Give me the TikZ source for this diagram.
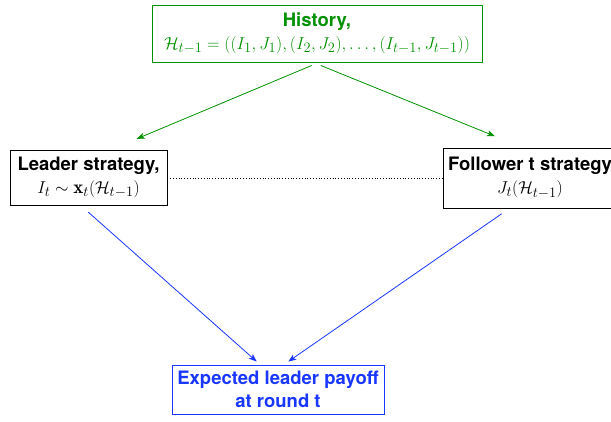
\documentclass[tikz,border=0pt]{standalone}
\usepackage{fontspec}
\setsansfont{TeX Gyre Heros}
\usetikzlibrary{arrows.meta,calc}
\definecolor{hgreen}{RGB}{0,145,0}
\definecolor{pblue}{RGB}{25,55,255}
\newcommand{\btx}[1]{{\fontsize{18.5}{23}\selectfont\sffamily\bfseries #1}}
\begin{document}
\begin{tikzpicture}[x=1pt,y=-1pt,
  box/.style={draw,line width=0.9pt,align=center,inner sep=0pt,
    font=\fontsize{19}{23}\selectfont},
  garrow/.style={draw=hgreen,line width=0.8pt,-{Stealth[length=8pt,width=6pt,inset=2pt]}},
  barrow/.style={draw=pblue,line width=0.8pt,-{Stealth[length=8pt,width=6pt,inset=2pt]}}]
\clip (0,0) rectangle (611,421);
\fill[white] (0,0) rectangle (611,421);
\node[box,draw=hgreen,text=hgreen,minimum width=330pt,minimum height=57pt] (hist) at (317,33.5)
  {\btx{History,}\\ $\mathcal{H}_{t-1}=((I_1,J_1),(I_2,J_2),\ldots,(I_{t-1},J_{t-1}))$};
\node[box,minimum width=157pt,minimum height=55pt] (lead) at (88.5,177.5)
  {\btx{Leader strategy,}\\ $I_t\sim\mathbf{x}_t(\mathcal{H}_{t-1})$};
\node[box,minimum width=174pt,minimum height=60pt] (foll) at (530,178)
  {\btx{Follower t strategy}\\ $J_t(\mathcal{H}_{t-1})$};
\node[box,draw=pblue,text=pblue,minimum width=212pt,minimum height=49pt] (exp) at (278,389.5)
  {\btx{Expected leader payoff}\\ \btx{at round t}};
\draw[garrow] ([xshift=-5.3pt,yshift=-3pt]hist.south) -- ([xshift=48.2pt,yshift=10.7pt]lead.north);
\draw[garrow] ([xshift=3.7pt,yshift=-3pt]hist.south) -- ([xshift=-35pt,yshift=11.3pt]foll.north);
\draw[barrow] ([xshift=-0.2pt,yshift=-6.7pt]lead.south) -- ([xshift=-21.3pt,yshift=3pt]exp.north);
\draw[barrow] ([xshift=-28.3pt,yshift=-5.3pt]foll.south) -- ([xshift=10.3pt,yshift=3pt]exp.north);
\draw[dotted,line width=0.8pt] ([yshift=-0.5pt]lead.east) -- (foll.west);
\end{tikzpicture}
\end{document}
